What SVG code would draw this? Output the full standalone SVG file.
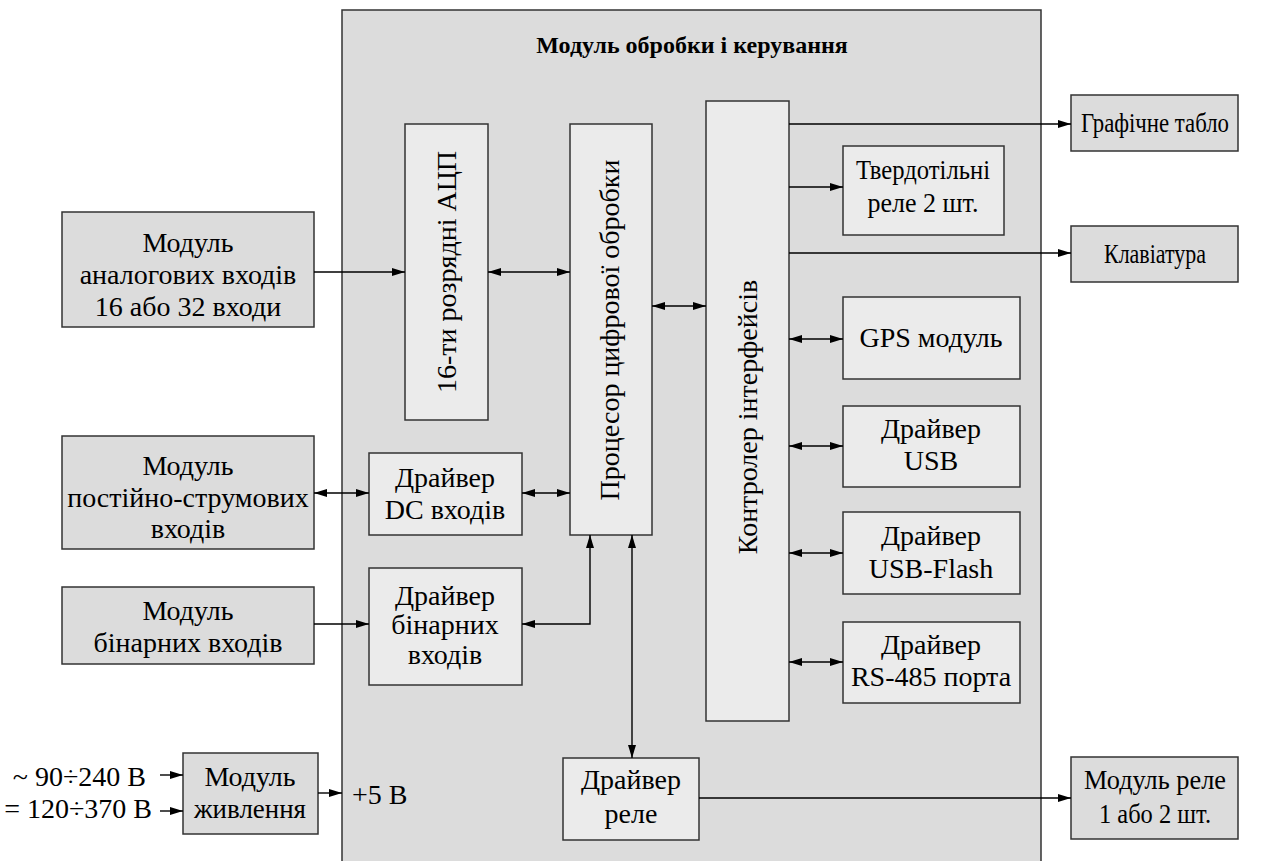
<svg xmlns="http://www.w3.org/2000/svg" width="1268" height="861" viewBox="0 0 1268 861">
<style>
text{font-family:"Liberation Serif","Times New Roman",serif;font-size:28px;fill:#000;text-anchor:middle}
.t{font-weight:bold;font-size:24px}
.o{fill:#dcdcdc;stroke:#333;stroke-width:1.5}
.i{fill:#ebebeb;stroke:#333;stroke-width:1.5}
.c{fill:none;stroke:#000;stroke-width:1.4}
.e{marker-end:url(#ah)}
.b{marker-end:url(#ah);marker-start:url(#ahs)}
</style>
<defs>
<marker id="ah" markerUnits="userSpaceOnUse" markerWidth="14" markerHeight="10" refX="13" refY="5" orient="auto"><path d="M0,1 L13,5 L0,9 z" fill="#000"/></marker>
<marker id="ahs" markerUnits="userSpaceOnUse" markerWidth="14" markerHeight="10" refX="13" refY="5" orient="auto-start-reverse"><path d="M0,1 L13,5 L0,9 z" fill="#000"/></marker>
</defs>
<g id="main"><rect class="o" x="342" y="10" width="699" height="870"/><text class="t" x="692" y="53">Модуль обробки і керування</text></g>
<g id="analog"><rect class="o" x="62" y="212" width="252" height="115"/><text x="188" y="252">Модуль</text><text x="188" y="284">аналогових входів</text><text x="188" y="316">16 або 32 входи</text></g>
<g id="dcmod"><rect class="o" x="62" y="436" width="252" height="113"/><text x="188" y="475">Модуль</text><text x="188" y="507">постійно-струмових</text><text x="188" y="538">входів</text></g>
<g id="binmod"><rect class="o" x="62" y="587" width="252" height="77"/><text x="188" y="620">Модуль</text><text x="188" y="652">бінарних входів</text></g>
<g id="power"><rect class="o" x="183" y="753" width="135" height="81"/><text x="250" y="786">Модуль</text><text x="250" y="818" textLength="112" lengthAdjust="spacingAndGlyphs">живлення</text></g>
<g id="powerlabels"><text x="146" y="786" style="text-anchor:end">~ 90÷240 В</text><text x="152" y="818" style="text-anchor:end">= 120÷370 В</text><text x="352" y="804" style="text-anchor:start">+5 В</text></g>
<g id="adc"><rect class="i" x="405" y="124" width="83" height="296"/><text transform="translate(456,272) rotate(-90)">16-ти розрядні АЦП</text></g>
<g id="cpu"><rect class="i" x="570" y="124" width="82" height="411"/><text transform="translate(619,330) rotate(-90)">Процесор цифрової обробки</text></g>
<g id="ctrl"><rect class="i" x="706" y="101" width="83" height="620"/><text transform="translate(757,417) rotate(-90)">Контролер інтерфейсів</text></g>
<g id="dcdrv"><rect class="i" x="369" y="453" width="153" height="82"/><text x="445" y="487">Драйвер</text><text x="445" y="519">DC входів</text></g>
<g id="bindrv"><rect class="i" x="369" y="568" width="153" height="117"/><text x="445" y="605">Драйвер</text><text x="445" y="634">бінарних</text><text x="445" y="664">входів</text></g>
<g id="reldrv"><rect class="i" x="563" y="758" width="136" height="82"/><text x="631" y="789">Драйвер</text><text x="631" y="823">реле</text></g>
<g id="ssr"><rect class="i" x="843" y="146" width="161" height="89"/><text x="923" y="179" textLength="134" lengthAdjust="spacingAndGlyphs">Твердотільні</text><text x="923" y="212" textLength="111" lengthAdjust="spacingAndGlyphs">реле 2 шт.</text></g>
<g id="gps"><rect class="i" x="843" y="297" width="177" height="82"/><text x="931" y="347">GPS модуль</text></g>
<g id="usb"><rect class="i" x="843" y="406" width="177" height="81"/><text x="931" y="438">Драйвер</text><text x="931" y="470">USB</text></g>
<g id="flash"><rect class="i" x="843" y="512" width="177" height="82"/><text x="931" y="545">Драйвер</text><text x="931" y="578">USB-Flash</text></g>
<g id="rs485"><rect class="i" x="843" y="622" width="177" height="81"/><text x="931" y="654">Драйвер</text><text x="931" y="686">RS-485 порта</text></g>
<g id="display"><rect class="o" x="1071" y="95" width="167" height="56"/><text x="1155" y="132" textLength="148" lengthAdjust="spacingAndGlyphs">Графічне табло</text></g>
<g id="keyboard"><rect class="o" x="1071" y="226" width="167" height="56"/><text x="1155" y="263" textLength="102" lengthAdjust="spacingAndGlyphs">Клавіатура</text></g>
<g id="relmod"><rect class="o" x="1071" y="757" width="167" height="82"/><text x="1155" y="789" textLength="142" lengthAdjust="spacingAndGlyphs">Модуль реле</text><text x="1155" y="823" textLength="112" lengthAdjust="spacingAndGlyphs">1 або 2 шт.</text></g>
<g id="connectors">
<path class="c e" d="M314,272 H405"/>
<path class="c b" d="M488,272 H570"/>
<path class="c b" d="M652,306 H706"/>
<path class="c e" d="M789,124 H1071"/>
<path class="c e" d="M789,187 H843"/>
<path class="c e" d="M789,253 H1071"/>
<path class="c b" d="M789,339 H843"/>
<path class="c b" d="M789,446 H843"/>
<path class="c b" d="M789,553 H843"/>
<path class="c b" d="M789,662 H843"/>
<path class="c b" d="M314,493 H369"/>
<path class="c b" d="M522,493 H570"/>
<path class="c e" d="M314,624 H369"/>
<path class="c b" d="M590,535 V624 H522"/>
<path class="c b" d="M632,535 V758"/>
<path class="c e" d="M699,798 H1071"/>
<path class="c e" d="M160,775 H183"/>
<path class="c e" d="M160,811 H183"/>
<path class="c e" d="M318,793 H342"/>
</g>
</svg>
